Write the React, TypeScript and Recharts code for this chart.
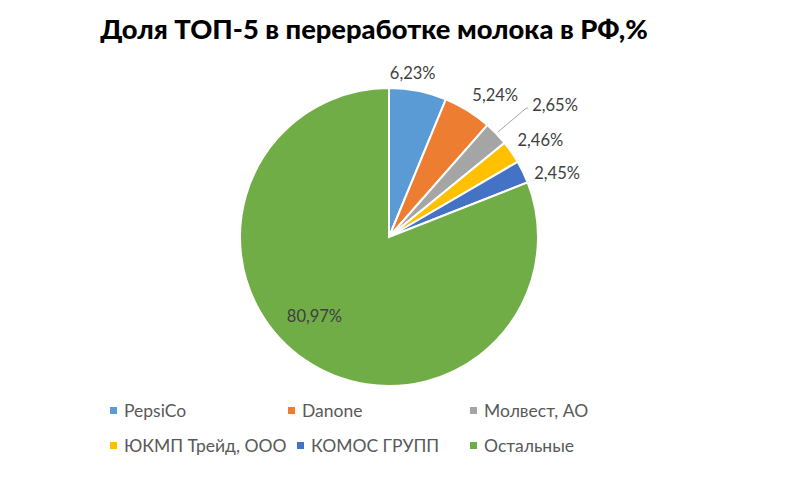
import React from 'react';
import { PieChart, Pie, Cell } from 'recharts';

const companies = ['PepsiCo', 'Danone', 'Молвест, АО', 'ЮКМП Трейд, ООО', 'КОМОС ГРУПП', 'Остальные'];
const shares = [6.23, 5.24, 2.65, 2.46, 2.45, 80.97];
const colors = ['#5B9BD5', '#ED7D31', '#A5A5A5', '#FFC000', '#4472C4', '#70AD47'];
const titleText = 'Доля ТОП-5 в переработке молока в РФ,%';

const data = companies.map((name, i) => ({ name, value: shares[i] }));

// label placement tweaks (radial offset, angle adjust) per slice
const labelOffset = [17, 28, 63, 31, 31, -40];
const labelAngleAdj = [3, -5, -5.5, -2, -5, -9];
const RAD = Math.PI / 180;
const FONT = 'Lato, "Open Sans", sans-serif';

const fmt = (v: number) => v.toFixed(2).replace('.', ',') + '%';

const renderLabel = (props: any) => {
  const { cx, cy, midAngle, outerRadius, index, value } = props;
  const i = index as number;
  const r = i === 5 ? outerRadius * 0.73 : outerRadius + labelOffset[i];
  const a = (midAngle + labelAngleAdj[i]) * RAD;
  const x = cx + r * Math.cos(a);
  const y = cy - r * Math.sin(a);
  const text = (
    <text
      x={x}
      y={y}
      textAnchor="middle"
      dominantBaseline="central"
      fill="#404040"
      fontSize={16.5}
      fontFamily={FONT}
    >
      {fmt(value)}
    </text>
  );
  if (i === 2) {
    const sx = cx + (outerRadius + 2) * Math.cos(midAngle * RAD);
    const sy = cy - (outerRadius + 2) * Math.sin(midAngle * RAD);
    return (
      <g>
        <polyline points={`${sx},${sy} ${x - 29},${y + 3} ${x - 27},${y + 3}`} stroke="#A5A5A5" strokeWidth={1} fill="none" />
        {text}
      </g>
    );
  }
  return text;
};

const legendCols = [
  [110, 288, 470],
  [110, 297, 470],
];

export default function App() {
  return (
    <div style={{ position: 'absolute', left: 0, top: 0, width: 800, height: 500, background: '#fff', fontFamily: FONT }}>
      <div
        style={{
          position: 'absolute',
          left: 0,
          top: 11,
          width: 748,
          textAlign: 'center',
          fontSize: 27.3,
          fontWeight: 900,
          color: '#000',
          lineHeight: '36px',
        }}
      >
        {titleText}
      </div>
      <PieChart width={800} height={500} margin={{ top: 0, right: 0, bottom: 0, left: 0 }}>
        <Pie
          data={data}
          dataKey="value"
          nameKey="name"
          cx={389}
          cy={237}
          outerRadius={149}
          startAngle={90}
          endAngle={-270}
          stroke="#fff"
          strokeWidth={2}
          label={renderLabel}
          labelLine={false}
          isAnimationActive={false}
        >
          {data.map((d, i) => (
            <Cell key={d.name} fill={colors[i]} />
          ))}
        </Pie>
      </PieChart>
      {companies.map((name, i) => {
        const row = Math.floor(i / 3);
        const col = i % 3;
        return (
          <div
            key={name}
            style={{
              position: 'absolute',
              left: legendCols[row][col],
              top: 399 + row * 35,
              height: 22,
              display: 'flex',
              alignItems: 'center',
              fontSize: 17.5,
              color: '#595959',
              whiteSpace: 'nowrap',
            }}
          >
            <span style={{ display: 'inline-block', width: 7, height: 7, background: colors[i], marginRight: 7 }} />
            {name}
          </div>
        );
      })}
    </div>
  );
}
